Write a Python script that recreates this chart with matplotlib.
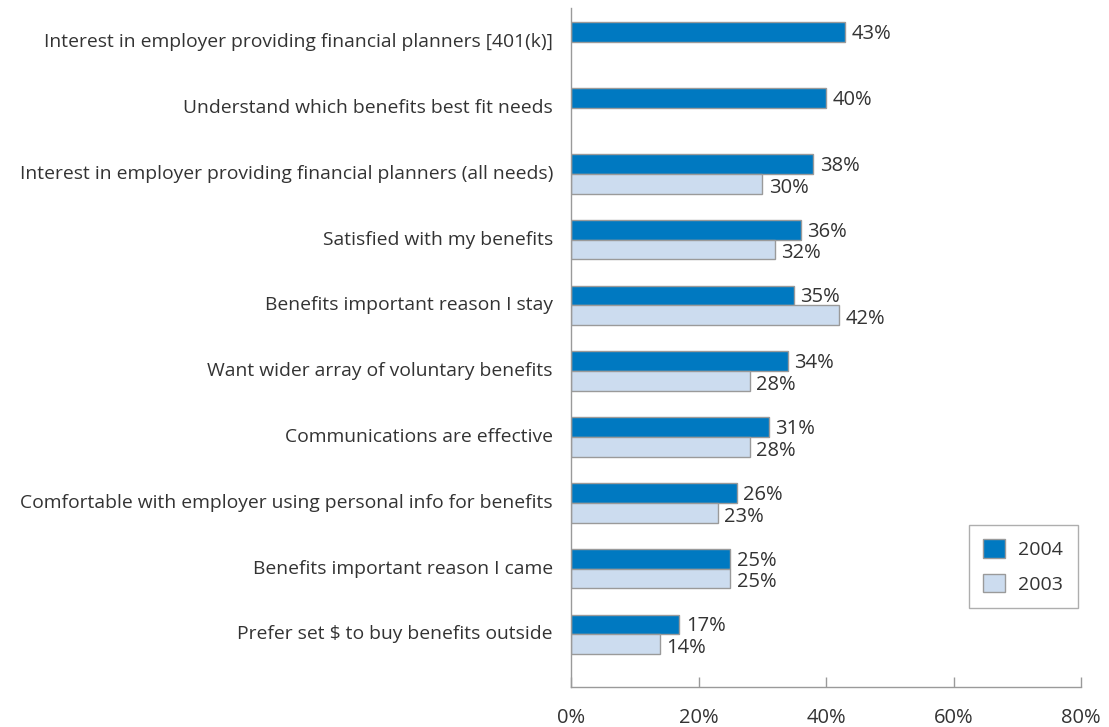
#!/usr/bin/env python3

import numpy as np
from matplotlib import pyplot as plt
from matplotlib.patches import Patch

plt.rcParams['font.family'] = ['Open Sans', 'DejaVu Sans']

categories = [
    'Interest in employer providing financial planners [401(k)]',
    'Understand which benefits best fit needs',
    'Interest in employer providing financial planners (all needs)',
    'Satisfied with my benefits',
    'Benefits important reason I stay',
    'Want wider array of voluntary benefits',
    'Communications are effective',
    'Comfortable with employer using personal info for benefits',
    'Benefits important reason I came',
    'Prefer set $ to buy benefits outside',
]
values_2004 = [43, 40, 38, 36, 35, 34, 31, 26, 25, 17]
values_2003 = [None, None, 30, 32, 42, 28, 28, 23, 25, 14]
xticks = [0, 20, 40, 60, 80]

blue = '#0079c1'
light = '#ccdcef'
edge = '#9a9a9a'
text = '#333333'

fig = plt.figure(figsize=(11.09, 7.27), dpi=100)
ax = fig.add_axes([571 / 1109, 1 - 687 / 727, 510 / 1109, 679 / 727])

y = np.arange(len(categories))
h = 0.30

for i, (a, b) in enumerate(zip(values_2004, values_2003)):
    ax.barh(i - h / 2, a, height=h, color=blue, edgecolor=edge, linewidth=1)
    ax.text(a + 1.0, i - h / 2 + 0.03, f'{a}%', va='center', ha='left',
            fontsize=14.5, color=text)
    if b is not None:
        ax.barh(i + h / 2, b, height=h, color=light, edgecolor=edge,
                linewidth=1)
        ax.text(b + 1.0, i + h / 2 + 0.06, f'{b}%', va='center', ha='left',
                fontsize=14.5, color=text)

ax.set_xlim(0, 80)
ax.set_ylim(9.8, -0.52)
ax.set_xticks(xticks)
ax.set_xticklabels([f'{t}%' for t in xticks], fontsize=14.5, color=text)
ax.set_yticks(y - 0.03)
ax.set_yticklabels(categories, fontsize=13.9, color=text)
ax.tick_params(axis='y', length=0, pad=13)
ax.tick_params(axis='x', direction='in', length=7, width=1, color=edge,
               pad=15)

for side in ('top', 'right'):
    ax.spines[side].set_visible(False)
for side in ('left', 'bottom'):
    ax.spines[side].set_color(edge)
    ax.spines[side].set_linewidth(1)

handles = [Patch(facecolor=blue, edgecolor=edge, label='2004'),
           Patch(facecolor=light, edgecolor=edge, label='2003')]
leg = ax.legend(handles=handles, loc='lower right',
                bbox_to_anchor=(0.994, 0.116), borderaxespad=0, fontsize=14,
                frameon=True, fancybox=False, edgecolor=edge,
                handlelength=1.1, handleheight=1.1, borderpad=0.75,
                labelspacing=0.75, handletextpad=0.7)
leg.get_frame().set_linewidth(1)
for t in leg.get_texts():
    t.set_color(text)

plt.savefig('out.png', dpi=100)
